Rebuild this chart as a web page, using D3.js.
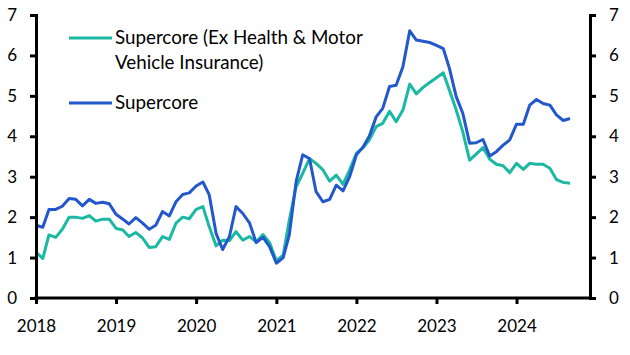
<!DOCTYPE html>
<html><head><meta charset="utf-8">
<script src="https://cdn.jsdelivr.net/npm/d3@7"></script>
<style>body{margin:0;background:#fff}svg{display:block}</style>
</head><body>
<svg id="c" width="630" height="355"></svg>
<script>
const startMonth = "2018-01";
const supercoreEx = [1.13,0.98,1.56,1.50,1.70,2.00,2.00,1.97,2.04,1.90,1.95,1.95,
 1.72,1.68,1.52,1.62,1.49,1.25,1.27,1.52,1.45,1.85,2.00,1.96,
 2.19,2.26,1.76,1.29,1.43,1.42,1.64,1.43,1.52,1.39,1.57,1.37,
 0.92,1.06,1.93,2.75,3.08,3.45,3.33,3.17,2.89,3.04,2.81,3.17,
 3.58,3.72,3.91,4.24,4.32,4.62,4.36,4.65,5.29,5.05,5.21,5.33,
 5.45,5.57,5.14,4.65,4.11,3.41,3.56,3.72,3.43,3.31,3.27,3.10,
 3.33,3.18,3.33,3.31,3.31,3.21,2.93,2.86,2.84];
const supercore = [1.80,1.75,2.19,2.19,2.27,2.46,2.44,2.28,2.44,2.34,2.37,2.33,
 2.07,1.95,1.83,1.99,1.86,1.70,1.80,2.14,2.03,2.38,2.56,2.60,
 2.77,2.87,2.55,1.60,1.20,1.52,2.26,2.09,1.85,1.37,1.50,1.27,
 0.86,1.00,1.56,2.88,3.54,3.45,2.63,2.38,2.44,2.79,2.65,3.00,
 3.54,3.74,4.01,4.48,4.69,5.23,5.26,5.72,6.61,6.38,6.35,6.32,
 6.25,6.17,5.68,4.98,4.57,3.83,3.84,3.92,3.51,3.62,3.78,3.91,
 4.30,4.30,4.77,4.91,4.81,4.77,4.53,4.39,4.44];
const yTicks = [0,1,2,3,4,5,6,7];
const xTickYears = [2018,2019,2020,2021,2022,2023,2024];
const seriesNames = ["Supercore (Ex Health & Motor|Vehicle Insurance)", "Supercore"];
const seriesColors = ["#1bb8a3", "#2357cc"];

const parse = d3.timeParse("%Y-%m");
const t0 = parse(startMonth);
const dates = supercoreEx.map((_, i) => d3.timeMonth.offset(t0, i));

const svg = d3.select("#c");
const L = 36, R = 590, T = 15, B = 298;
const x = d3.scaleTime().domain([new Date(2018,0,1), new Date(2024,11,1)]).range([L, R]);
const y = d3.scaleLinear().domain([0,7]).range([B, T]);
const font = "Lato, 'Open Sans', sans-serif";

const line = d3.line().x((d,i)=>x(dates[i])).y(d=>y(d));
svg.append("path").datum(supercoreEx).attr("d", line).attr("fill","none")
  .attr("stroke", seriesColors[0]).attr("stroke-width", 3).attr("stroke-linejoin","round");
svg.append("path").datum(supercore).attr("d", line).attr("fill","none")
  .attr("stroke", seriesColors[1]).attr("stroke-width", 3).attr("stroke-linejoin","round");

function styleAxis(g){
  g.select(".domain").attr("stroke","#000").attr("stroke-width",3);
  g.selectAll(".tick line").attr("stroke","#000").attr("stroke-width",3);
  g.selectAll(".tick text").attr("fill","#000").style("font-family",font).style("font-size","17px");
}
const yl = svg.append("g").attr("transform",`translate(${L},0)`)
  .call(d3.axisLeft(y).tickValues(yTicks).tickFormat(d3.format("d")).tickSizeOuter(0).tickSize(6).tickPadding(13));
styleAxis(yl);
const yr = svg.append("g").attr("transform",`translate(${R},0)`)
  .call(d3.axisRight(y).tickValues(yTicks).tickFormat(d3.format("d")).tickSizeOuter(0).tickSize(6).tickPadding(13));
styleAxis(yr);
const xa = svg.append("g").attr("transform",`translate(0,${B})`)
  .call(d3.axisBottom(x).tickValues(xTickYears.map(v=>new Date(v,0,1))).tickFormat(d3.timeFormat("%Y")).tickSizeOuter(0).tickSize(6).tickPadding(16));
styleAxis(xa);
xa.select(".domain").attr("d", `M${L-1.5},0H${R+1.5}`);

// legend
const leg = [{y:38, lines:seriesNames[0].split("|"), c:seriesColors[0]},
             {y:103, lines:seriesNames[1].split("|"), c:seriesColors[1]}];
leg.forEach(l=>{
  svg.append("line").attr("x1",69).attr("x2",112).attr("y1",l.y).attr("y2",l.y)
    .attr("stroke",l.c).attr("stroke-width",3);
  l.lines.forEach((s,k)=>{
    svg.append("text").attr("x",115).attr("y",l.y+6+k*25).text(s)
      .style("font-family",font).style("font-size","18.8px").attr("fill","#000");
  });
});
</script>
</body></html>
